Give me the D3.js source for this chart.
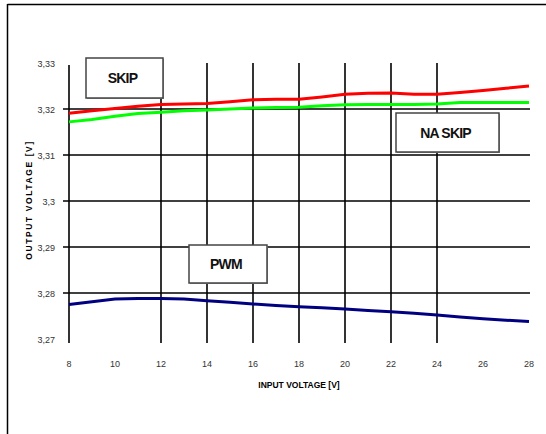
<!DOCTYPE html>
<html><head><meta charset="utf-8">
<script src="https://cdn.jsdelivr.net/npm/d3@7"></script>
<style>body{margin:0;background:#fff}svg{display:block}</style>
</head><body>
<svg id="c" width="546" height="434"></svg>
<script>
const inputVoltage = [8,9,10,11,12,13,14,15,16,17,18,19,20,21,22,23,24,25,26,27,28];
const skip   = [3.3191,3.3196,3.3201,3.3206,3.3210,3.3211,3.3212,3.3216,3.3220,3.3221,3.3221,3.3226,3.3232,3.3234,3.3235,3.3232,3.3232,3.3236,3.3240,3.3245,3.3250];
const naSkip = [3.3172,3.3177,3.3184,3.3190,3.3193,3.3196,3.3198,3.3200,3.3202,3.3203,3.3204,3.3207,3.3209,3.3210,3.3210,3.3210,3.3211,3.3214,3.3214,3.3214,3.3214];
const pwm    = [3.2775,3.2781,3.2787,3.2788,3.2788,3.2787,3.2783,3.2780,3.2776,3.2773,3.2770,3.2768,3.2765,3.2762,3.2759,3.2756,3.2752,3.2748,3.2744,3.2741,3.2738];
const xTicks = [8,10,12,14,16,18,20,22,24,26,28];
const xGrid = [12,14,16,18,20,22,24];
const yTicks = [3.27,3.28,3.29,3.30,3.31,3.32,3.33];
const yTickLabels = ["3,27","3,28","3,29","3,3","3,31","3,32","3,33"];
const yGrid = [3.28,3.29,3.30,3.31,3.32];
const seriesNames = ["SKIP","NA SKIP","PWM"];
const seriesColors = ["#ff0000","#00ff00","#000080"];

const svg = d3.select("#c");
const x = d3.scaleLinear().domain([8,28]).range([69,529]);
const y = d3.scaleLinear().domain([3.27,3.33]).range([339,63]);

// outer frame
svg.append("line").attr("x1",7.5).attr("x2",546).attr("y1",4.5).attr("y2",4.5).attr("stroke","#000").attr("stroke-width",1.5);
svg.append("line").attr("x1",7.5).attr("x2",7.5).attr("y1",4).attr("y2",434).attr("stroke","#000").attr("stroke-width",1.5);

// grid
svg.append("g").selectAll("line").data(yGrid).join("line")
  .attr("x1",63).attr("x2",530).attr("y1",d=>y(d)).attr("y2",d=>y(d))
  .attr("stroke","#000").attr("stroke-width",1.6);
svg.append("g").selectAll("line").data(xGrid).join("line")
  .attr("x1",d=>x(d)).attr("x2",d=>x(d)).attr("y1",y(3.33)).attr("y2",343)
  .attr("stroke","#000").attr("stroke-width",1.6);
// y axis line
svg.append("line").attr("x1",x(8)).attr("x2",x(8)).attr("y1",y(3.33)+2).attr("y2",343).attr("stroke","#000").attr("stroke-width",1.6);

// tick labels
svg.append("g").selectAll("text").data(yTicks).join("text")
  .attr("x",55).attr("y",d=>y(d)+3.5).attr("text-anchor","end")
  .attr("font-family","Liberation Sans, Arial, sans-serif").attr("font-size",9).attr("fill","#333")
  .text((d,i)=>yTickLabels[i]);
svg.append("g").selectAll("text").data(xTicks).join("text")
  .attr("x",d=>x(d)).attr("y",367).attr("text-anchor","middle")
  .attr("font-family","Liberation Sans, Arial, sans-serif").attr("font-size",9).attr("fill","#333")
  .text(d=>d);

// axis titles
svg.append("text").attr("x",299).attr("y",388).attr("text-anchor","middle")
  .attr("font-family","Liberation Sans, Arial, sans-serif").attr("font-size",8.5).attr("font-weight","bold")
  .text("INPUT VOLTAGE [V]");
svg.append("text").attr("transform","translate(32,200) rotate(-90)").attr("text-anchor","middle")
  .attr("font-family","Liberation Sans, Arial, sans-serif").attr("font-size",8.5).attr("font-weight","bold")
  .attr("letter-spacing",1.6)
  .text("OUTPUT VOLTAGE [V]");

// lines
const line = d3.line().x((d,i)=>x(inputVoltage[i])).y(d=>y(d));
[skip,naSkip,pwm].forEach((s,k)=>{
  svg.append("path").datum(s).attr("d",line).attr("fill","none")
    .attr("stroke",seriesColors[k]).attr("stroke-width",3);
});

// label boxes
const boxes = [
  {name:seriesNames[0], x0:86, y0:58, w:77, h:40},
  {name:seriesNames[1], x0:396, y0:113, w:103, h:39},
  {name:seriesNames[2], x0:189, y0:245, w:78, h:38}
];
boxes.forEach(b=>{
  svg.append("rect").attr("x",b.x0+1).attr("y",b.y0+1).attr("width",b.w).attr("height",b.h)
    .attr("fill","#999");
  svg.append("rect").attr("x",b.x0).attr("y",b.y0).attr("width",b.w).attr("height",b.h)
    .attr("fill","#fff").attr("stroke","#444").attr("stroke-width",1.5);
  svg.append("text").attr("x",b.x0+b.w/2-2).attr("y",b.y0+b.h/2+5).attr("text-anchor","middle")
    .attr("font-family","Liberation Sans, Arial, sans-serif").attr("font-size",14).attr("font-weight","bold")
    .attr("letter-spacing",-0.8).attr("fill","#111")
    .text(b.name);
});
</script>
</body></html>
